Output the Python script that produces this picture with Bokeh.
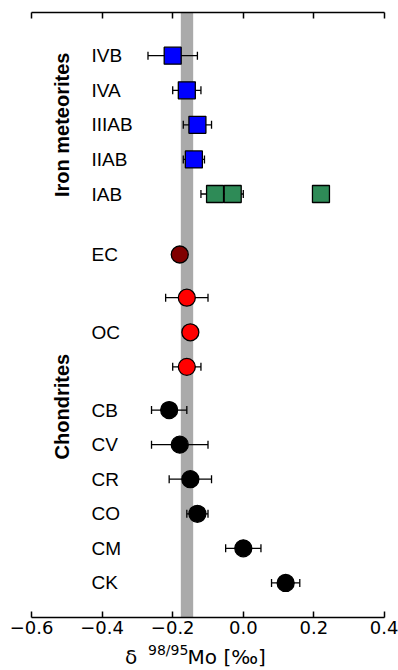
import math
from bokeh.plotting import figure
from bokeh.layouts import column
from bokeh.models import (ColumnDataSource, Whisker, TeeHead, BoxAnnotation, LinearAxis,
                          FixedTicker, CustomJSTickFormatter, Range1d)
from bokeh.core.properties import value
from bokeh.embed import file_html
from bokeh.resources import INLINE

# ---- data ----
iron_labels = ["IVB", "IVA", "IIIAB", "IIAB", "IAB"]
iron_label_rows = [16.25, 15.25, 14.25, 13.25, 12.25]
iron_rows = [16.25, 15.25, 14.25, 13.25, 12.25, 12.25, 12.25]
iron_values = [-0.20, -0.16, -0.13, -0.14, -0.08, -0.03, 0.22]
iron_errors = [0.07, 0.04, 0.04, 0.03, 0.04, 0.03, 0.02]
iron_colors = ["blue", "blue", "blue", "blue", "seagreen", "seagreen", "seagreen"]

chon_labels = ["EC", "OC", "CB", "CV", "CR", "CO", "CM", "CK"]
chon_label_rows = [10.5, 8.25, 6, 5, 4, 3, 2, 1]
chon_rows = [10.5, 9.25, 8.25, 7.25, 6, 5, 4, 3, 2, 1]
chon_values = [-0.18, -0.16, -0.15, -0.16, -0.21, -0.18, -0.15, -0.13, 0.00, 0.12]
chon_errors = [0.0, 0.06, 0.0, 0.04, 0.05, 0.08, 0.06, 0.03, 0.05, 0.04]
chon_colors = ["#800000", "red", "red", "red", "black", "black", "black", "black", "black", "black"]

band_low, band_high = -0.177, -0.142
xticks = [-0.6, -0.4, -0.2, 0.0, 0.2, 0.4]
xlabel_parts = ["δ", "98/95", "Mo [‰]"]

LABEL_FONT = "Liberation Sans"
TICK_FONT = "DejaVu Sans"

xr = Range1d(-0.6, 0.4)
p = figure(width=398, height=643, x_range=xr, y_range=Range1d(0, 17.5),
           output_backend="svg", toolbar_location=None, y_axis_location=None,
           x_axis_location="below",
           min_border_left=31, min_border_right=14, min_border_top=12, min_border_bottom=26)
p.outline_line_color = None
p.xgrid.visible = False
p.ygrid.visible = False
p.background_fill_color = "white"
p.border_fill_color = "white"

fmt = CustomJSTickFormatter(code="return tick.toFixed(1).replace('-', '\\u2212');")
xa = p.xaxis[0]
xa.ticker = FixedTicker(ticks=xticks)
xa.formatter = fmt
xa.axis_line_width = 1.5
xa.major_tick_line_width = 1.5
xa.major_tick_in = 6
xa.major_tick_out = 0
xa.minor_tick_line_color = None
xa.major_label_text_font = TICK_FONT
xa.major_label_text_font_size = "18px"
xa.major_label_text_color = "black"
xa.major_label_standoff = 3

top = LinearAxis(ticker=FixedTicker(ticks=xticks), formatter=fmt,
                 axis_line_width=1.5, major_tick_line_width=1.5, major_tick_in=6,
                 major_tick_out=0, minor_tick_line_color=None,
                 major_label_text_color=None, major_label_text_font_size="1px",
                 major_label_standoff=0)
p.add_layout(top, "above")

band = BoxAnnotation(left=band_low, right=band_high, fill_color="#aaaaaa", fill_alpha=1.0,
                     line_color=None, level="underlay")
p.add_layout(band)

def add_series(vals, rows, errs, colors, marker):
    src = ColumnDataSource(dict(x=vals, y=rows, lower=[v - e for v, e in zip(vals, errs)],
                                upper=[v + e for v, e in zip(vals, errs)], c=colors))
    w = Whisker(base="y", lower="lower", upper="upper", dimension="width", source=src,
                line_color="black", line_width=1.3,
                upper_head=TeeHead(size=8, line_width=1.3, line_color="black"),
                lower_head=TeeHead(size=8, line_width=1.3, line_color="black"),
                level="underlay")
    p.add_layout(w)
    p.scatter("x", "y", source=src, marker=marker, size=17, fill_color="c",
              line_color="black", line_width=1.3)

add_series(iron_values, iron_rows, iron_errors, iron_colors, "square")
add_series(chon_values, chon_rows, chon_errors, chon_colors, "circle")

# category labels
p.text(x=[-0.43] * (len(iron_labels) + len(chon_labels)),
       y=iron_label_rows + chon_label_rows, text=iron_labels + chon_labels,
       text_font=value(LABEL_FONT), text_font_size="19px", text_align="left",
       text_baseline="middle", text_color="black")

# group labels
p.text(x=[-0.515, -0.515], y=[14.25, 6.1], text=["Iron meteorites", "Chondrites"],
       angle=math.pi / 2, text_font=value(LABEL_FONT), text_font_size="20px",
       text_font_style="bold", text_align="center", text_baseline="middle",
       text_color="black")

# x-axis label strip: δ^{98/95}Mo [‰]
q = figure(width=398, height=27, x_range=xr, y_range=Range1d(0, 27),
           output_backend="svg", toolbar_location=None, x_axis_location=None,
           y_axis_location=None, min_border=0, min_border_left=31, min_border_right=14)
q.outline_line_color = None
q.xgrid.visible = False
q.ygrid.visible = False
q.border_fill_color = "white"
q.text(x=[-0.335, -0.158], y=[14, 14], text=[xlabel_parts[0], xlabel_parts[2]],
       text_font=value(TICK_FONT), text_font_size="20px", text_align="left",
       text_baseline="alphabetic", text_color="black")
q.text(x=[-0.27], y=[21], text=[xlabel_parts[1]],
       text_font=value(TICK_FONT), text_font_size="14px", text_align="left",
       text_baseline="alphabetic", text_color="black")

layout = column(p, q, spacing=0)
open("out.html", "w").write(file_html(layout, INLINE))
